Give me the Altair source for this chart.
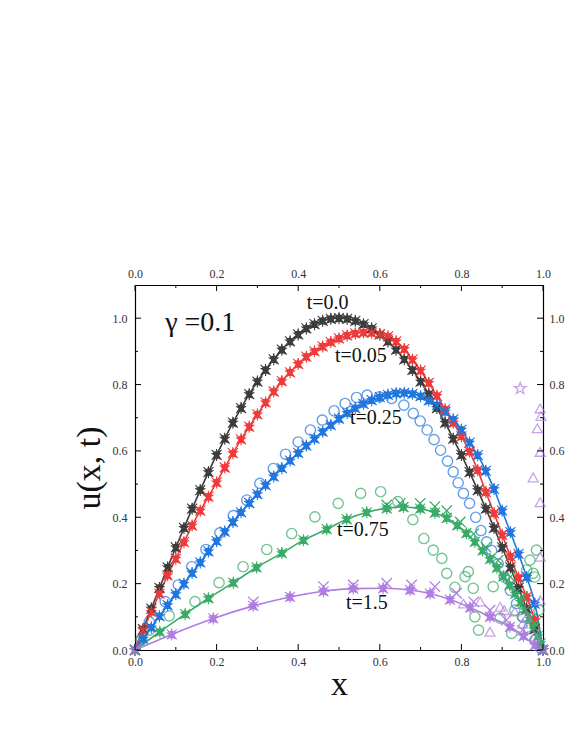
import altair as alt
import pandas as pd

# ---------------- data ----------------
x_grid = [0.00, 0.02, 0.04, 0.06, 0.08, 0.10, 0.12, 0.14, 0.16, 0.18, 0.20, 0.22, 0.24, 0.26, 0.28,
          0.30, 0.32, 0.34, 0.36, 0.38, 0.40, 0.42, 0.44, 0.46, 0.48, 0.50, 0.52, 0.54, 0.56, 0.58,
          0.60, 0.62, 0.64, 0.66, 0.68, 0.70, 0.72, 0.74, 0.76, 0.78, 0.80, 0.82, 0.84, 0.86, 0.88,
          0.90, 0.92, 0.94, 0.96, 0.98, 1.00]

u_t00 = [0, .063, .125, .187, .249, .309, .368, .426, .482, .536, .588, .637, .685, .729, .771,
         .809, .844, .876, .905, .930, .951, .969, .982, .992, .998, 1.0, .998, .992, .982, .969,
         .951, .930, .905, .876, .844, .809, .771, .729, .685, .637, .588, .536, .482, .426, .368,
         .309, .249, .187, .125, .063, 0]

u_t005 = [0, .060, .115, .170, .225, .275, .325, .375, .420, .462, .505, .550, .593, .635, .673,
          .710, .746, .779, .810, .837, .862, .884, .900, .915, .928, .939, .948, .954, .957, .956,
          .952, .945, .930, .907, .875, .842, .805, .766, .725, .685, .644, .598, .542, .476, .412,
          .347, .282, .218, .160, .090, 0]

u_t025 = [0, .034, .068, .102, .135, .168, .200, .232, .264, .297, .328, .357, .386, .415, .443,
          .470, .497, .523, .548, .571, .594, .616, .637, .658, .678, .697, .714, .729, .742, .753,
          .762, .769, .774, .775, .772, .765, .752, .738, .718, .695, .664, .625, .587, .540, .485,
          .420, .355, .290, .220, .140, 0]

green_x = [0, 0.061, 0.123, 0.18, 0.241, 0.298, 0.36, 0.413, 0.47, 0.519, 0.568, 0.617, 0.658, 0.699,
           0.735, 0.764, 0.79, 0.812, 0.833, 0.852, 0.87, 0.887, 0.903, 0.918, 0.932, 0.945, 0.957,
           0.968, 0.978, 0.987, 0.994, 1.0]
green_u = [0, 0.055, 0.108, 0.156, 0.203, 0.249, 0.292, 0.331, 0.364, 0.394, 0.415, 0.427, 0.431, 0.426,
           0.414, 0.398, 0.376, 0.352, 0.326, 0.300, 0.274, 0.248, 0.222, 0.196, 0.170, 0.145, 0.120,
           0.094, 0.068, 0.042, 0.020, 0]

purple_x = [0, 0.09, 0.192, 0.29, 0.38, 0.462, 0.535, 0.608, 0.674, 0.723, 0.772, 0.821, 0.87, 0.919,
            0.952, 0.98, 1.0]
purple_u = [0, 0.047, 0.095, 0.133, 0.160, 0.177, 0.185, 0.186, 0.181, 0.170, 0.152, 0.128, 0.100, 0.070,
            0.042, 0.015, 0]

blue_circ_x = [0.015, 0.035, 0.074, 0.106, 0.139, 0.174, 0.208, 0.241, 0.274, 0.306, 0.339, 0.369, 0.4,
               0.43, 0.459, 0.488, 0.515, 0.543, 0.569, 0.599, 0.629, 0.659, 0.682, 0.699, 0.716, 0.733,
               0.749, 0.766, 0.78, 0.792, 0.805, 0.82, 0.835, 0.848, 0.862, 0.874, 0.89, 0.905, 0.92,
               0.935, 0.95, 0.965, 0.98, 0.995]
blue_circ_u = [0.03, 0.085, 0.146, 0.196, 0.251, 0.303, 0.353, 0.405, 0.452, 0.502, 0.547, 0.59, 0.627,
               0.663, 0.693, 0.721, 0.743, 0.761, 0.768, 0.763, 0.758, 0.738, 0.713, 0.69, 0.663, 0.634,
               0.602, 0.569, 0.537, 0.504, 0.472, 0.442, 0.40, 0.36, 0.326, 0.30, 0.26, 0.22, 0.18,
               0.14, 0.10, 0.065, 0.03, 0.005]

green_circ_x = [0.016, 0.035, 0.084, 0.147, 0.206, 0.265, 0.323, 0.384, 0.441, 0.498, 0.553, 0.602, 0.644,
                0.681, 0.708, 0.731, 0.752, 0.764, 0.784, 0.809, 0.817, 0.829, 0.833, 0.842, 0.878, 0.895,
                0.923, 0.931, 0.96, 0.968, 0.976, 0.98, 0.984, 0.95, 0.99]
green_circ_u = [0.035, 0.06, 0.103, 0.146, 0.203, 0.251, 0.303, 0.351, 0.401, 0.442, 0.472, 0.477, 0.447,
                0.393, 0.336, 0.301, 0.276, 0.231, 0.189, 0.221, 0.236, 0.186, 0.10, 0.06, 0.191, 0.096,
                0.05, 0.12, 0.241, 0.271, 0.231, 0.22, 0.301, 0.10, 0.12]

green_cross_x = [0.617, 0.65, 0.699, 0.735, 0.764, 0.797, 0.83, 0.86, 0.89, 0.92, 0.95, 0.98]
green_cross_u = [0.437, 0.442, 0.442, 0.432, 0.42, 0.386, 0.35, 0.31, 0.27, 0.22, 0.16, 0.08]

purple_cross_x = [0.29, 0.462, 0.535, 0.617, 0.678, 0.735, 0.788, 0.83, 0.87, 0.91, 0.95]
purple_cross_u = [0.145, 0.191, 0.196, 0.201, 0.196, 0.191, 0.171, 0.145, 0.12, 0.09, 0.06]

purple_tri_x = [0.805, 0.846, 0.87, 0.895, 0.905, 0.931, 0.95, 0.96, 0.993, 0.995, 0.986, 0.993, 0.976,
                0.993, 0.993, 0.993, 0.98]
purple_tri_u = [0.14, 0.146, 0.055, 0.13, 0.12, 0.116, 0.08, 0.10, 0.728, 0.705, 0.668, 0.597, 0.52,
                0.445, 0.281, 0.15, 0.04]

purple_star_x = [0.944]
purple_star_u = [0.788]

series_names = ["t0", "t005", "t025", "t075", "t15"]
series_colors = ["#3d3d3d", "#ef3b3b", "#2176df", "#3aab68", "#b07de2"]

ann_text = ["t=0.0", "t=0.05", "t=0.25", "t=0.75", "t=1.5"]
ann_x = [0.421, 0.49, 0.527, 0.495, 0.517]
ann_u = [1.045, 0.886, 0.699, 0.361, 0.142]

gamma_text = ["γ =0.1"]
gamma_x = [0.074]
gamma_u = [0.985]

major_ticks = [0.0, 0.2, 0.4, 0.6, 0.8, 1.0]
minor_ticks = [0.1, 0.3, 0.5, 0.7, 0.9]

# ---------------- tables ----------------
def frame(name, xs, us):
    return pd.DataFrame({"series": name, "x": xs, "u": us})

curves = pd.concat([
    frame("t0", x_grid, u_t00),
    frame("t005", x_grid, u_t005),
    frame("t025", x_grid, u_t025),
    frame("t075", green_x, green_u),
    frame("t15", purple_x, purple_u),
], ignore_index=True)

circles = pd.concat([
    frame("t025", blue_circ_x, blue_circ_u),
    frame("t075", green_circ_x, green_circ_u),
], ignore_index=True)

crosses = pd.concat([
    frame("t075", green_cross_x, green_cross_u),
    frame("t15", purple_cross_x, purple_cross_u),
], ignore_index=True)

tris = frame("t15", purple_tri_x, purple_tri_u)
ostar = frame("t15", purple_star_x, purple_star_u)

ann = pd.DataFrame({"x": ann_x, "u": ann_u, "text": ann_text})
gam = pd.DataFrame({"x": gamma_x, "u": gamma_u, "text": gamma_text})
maj = pd.DataFrame({"v": major_ticks})
mnr = pd.DataFrame({"v": minor_ticks})

# ---------------- encodings ----------------
FONT = "Liberation Serif"
W, H = 408, 365
xscale = alt.Scale(domain=[0, 1], nice=False, zero=False)
yscale = alt.Scale(domain=[0, 1.1], nice=False, zero=False)
X = alt.X("x:Q", scale=xscale, axis=None)
Y = alt.Y("u:Q", scale=yscale, axis=None)
C = alt.Color("series:N", scale=alt.Scale(domain=series_names, range=series_colors), legend=None)

STAR = ("M0,-1L0.235,-0.324L0.951,-0.309L0.38,0.124L0.588,0.809L0,0.4L-0.588,0.809"
        "L-0.38,0.124L-0.951,-0.309L-0.235,-0.324Z")
XMARK = "M-1,-1L1,1M-1,1L1,-1"
ASTER = "M-1,-1L1,1M-1,1L1,-1M0,-1.2L0,1.2"

common_axis = dict(values=major_ticks, format=".1f", ticks=False, grid=False, domainColor="black",
                   domainWidth=1.2, labelFont=FONT, labelFontSize=12, labelColor="#333333",
                   labelFlush=False, labelOverlap=False, titleFont=FONT, titleFontSize=34,
                   titleFontWeight="normal", titleColor="#111111")

ax_bl = alt.Chart(curves).mark_point(opacity=0).encode(
    x=alt.X("x:Q", scale=xscale, axis=alt.Axis(orient="bottom", title="x", labelPadding=6,
                                                 titlePadding=0, **common_axis)),
    y=alt.Y("u:Q", scale=yscale, axis=alt.Axis(orient="left", title="u(x, t)", labelPadding=8,
                                                 titlePadding=6, **common_axis)),
)
ax_tr = alt.Chart(curves).mark_point(opacity=0).encode(
    x=alt.X("x:Q", scale=xscale, axis=alt.Axis(orient="top", title=None, labelPadding=5, **common_axis)),
    y=alt.Y("u:Q", scale=yscale, axis=alt.Axis(orient="right", title=None, labelPadding=6, **common_axis)),
)

circ_layer = alt.Chart(circles).mark_point(shape="circle", filled=False, size=105, strokeWidth=1.4).encode(
    x=X, y=Y, color=C)
line_layer = alt.Chart(curves).mark_line(strokeWidth=1.6, interpolate="monotone").encode(
    x=X, y=Y, color=C, detail="series:N")
star_layer = alt.Chart(curves).mark_point(shape=STAR, filled=True, size=150, opacity=1).encode(
    x=X, y=Y, color=C)
triu_layer = alt.Chart(curves).mark_point(shape="triangle-up", filled=True, size=75, opacity=1).encode(
    x=X, y=Y, color=C)
trid_layer = alt.Chart(curves).mark_point(shape="triangle-down", filled=True, size=60, opacity=1).encode(
    x=X, y=Y, color=C)
xm_layer = alt.Chart(curves).mark_point(shape=ASTER, filled=False, size=100, strokeWidth=1.1, opacity=1).encode(
    x=X, y=Y, color=C)
cross_layer = alt.Chart(crosses).mark_point(shape=XMARK, filled=False, size=110, strokeWidth=1.3, opacity=1).encode(
    x=X, y=Y, color=C)
otri_layer = alt.Chart(tris).mark_point(shape="triangle-up", filled=False, size=100, strokeWidth=1.3).encode(
    x=X, y=Y, color=C)
ostar_layer = alt.Chart(ostar).mark_point(shape=STAR, filled=False, size=150, strokeWidth=1.3).encode(
    x=X, y=Y, color=C)

ann_layer = alt.Chart(ann).mark_text(font=FONT, fontSize=20, align="left", baseline="middle",
                                     color="#111111").encode(x=X, y=Y, text="text:N")
gam_layer = alt.Chart(gam).mark_text(font=FONT, fontSize=28, align="left", baseline="middle",
                                     color="#111111").encode(x=X, y=Y, text="text:N")

def vticks(df, y1, y2):
    return alt.Chart(df).mark_rule(color="black", strokeWidth=1).encode(
        x=alt.X("v:Q", scale=xscale, axis=None), y=alt.value(y1), y2=alt.value(y2))

def hticks(df, x1, x2):
    return alt.Chart(df).mark_rule(color="black", strokeWidth=1).encode(
        y=alt.Y("v:Q", scale=yscale, axis=None), x=alt.value(x1), x2=alt.value(x2))

tick_layers = [
    vticks(maj, H, H - 6), vticks(mnr, H, H - 3),
    vticks(maj, 0, 6), vticks(mnr, 0, 3),
    hticks(maj, 0, 6), hticks(mnr, 0, 3),
    hticks(maj, W, W - 6), hticks(mnr, W, W - 3),
]

chart = alt.layer(
    ax_bl, ax_tr, circ_layer, line_layer, star_layer, triu_layer, trid_layer, xm_layer, cross_layer,
    otri_layer, ostar_layer, ann_layer, gam_layer, *tick_layers
).resolve_axis(x="independent", y="independent").properties(
    width=W, height=H,
    autosize=alt.AutoSizeParams(type="none"),
    padding={"left": 127, "top": 277, "right": 24, "bottom": 80},
).configure_view(stroke=None)

chart.save("out.html", embed_options={"renderer": "svg", "actions": False})
